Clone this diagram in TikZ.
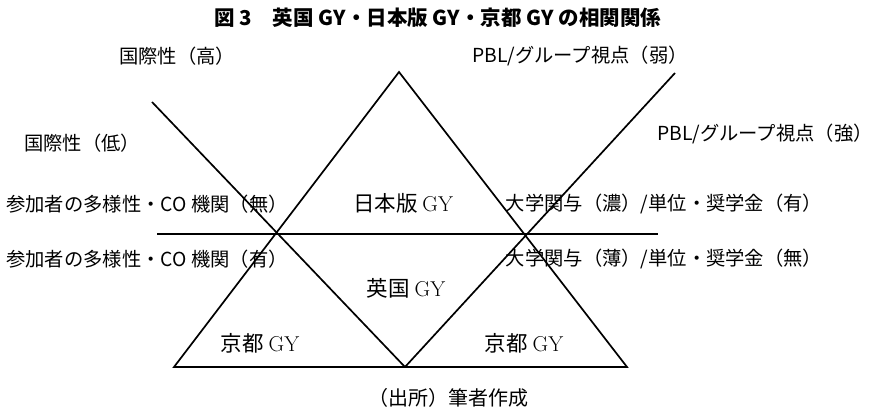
\documentclass[tikz,border=0pt]{standalone}
\usepackage{fontspec}
\newfontfamily\jp{Noto Sans CJK JP}
\begin{document}
\begin{tikzpicture}[x=1pt,y=-1pt,
  lab/.style={font=\jp\fontsize{19.3}{19.3}\selectfont, inner sep=0pt},
  gy/.style={font=\jp\fontsize{21.5}{21.5}\selectfont, inner sep=0pt},
  ttl/.style={font=\jp\bfseries\fontsize{20.5}{20.5}\selectfont, inner sep=0pt},
  srccap/.style={font=\jp\fontsize{20}{20}\selectfont, inner sep=0pt},
  ln/.style={line width=1.7pt, line join=miter}]
\useasboundingbox (0,0) rectangle (875,411);
% frame points
\coordinate (apex) at (399,72);
\coordinate (bl) at (174,367);
\coordinate (bm) at (405,367);
\coordinate (br) at (627,367);
\coordinate (ctop) at (152,102);
\coordinate (dtop) at (675,73);
\coordinate (hl) at (157,234);
\coordinate (hr) at (658,234);
\draw[ln] (bl) -- (apex) -- (br) -- cycle;
\draw[ln] (ctop) -- (bm);
\draw[ln] (dtop) -- (bm);
\draw[ln] (hl) -- (hr);
% title
\node[ttl] (title) at (438,18) {図 3　英国 GY・日本版 GY・京都 GY の相関関係};
% side labels
\node[lab] (kh) at (177,56) {国際性（高）};
\node[lab] (pw) at (580,56) {PBL/グループ視点（弱）};
\node[lab] (kl) at (82,143) {国際性（低）};
\node[lab] (ps) at (765,134) {PBL/グループ視点（強）};
\node[lab] (dn) at (147,204) {参加者の多様性・CO 機関（無）};
\node[lab] (da) at (147,259) {参加者の多様性・CO 機関（有）};
\node[lab] (uh) at (664,204) {大学関与（濃）/単位・奨学金（有）};
\node[lab] (ul) at (664,259) {大学関与（薄）/単位・奨学金（無）};
% region labels
\node[gy] (jp) at (403,203) {日本版 {\rmfamily GY}};
\node[gy] (uk) at (406,288) {英国 {\rmfamily GY}};
\node[gy] (ky1) at (260,343) {京都 {\rmfamily GY}};
\node[gy] (ky2) at (524,343) {京都 {\rmfamily GY}};
% source
\node[srccap] (src) at (448,398) {（出所）筆者作成};
\end{tikzpicture}
\end{document}
